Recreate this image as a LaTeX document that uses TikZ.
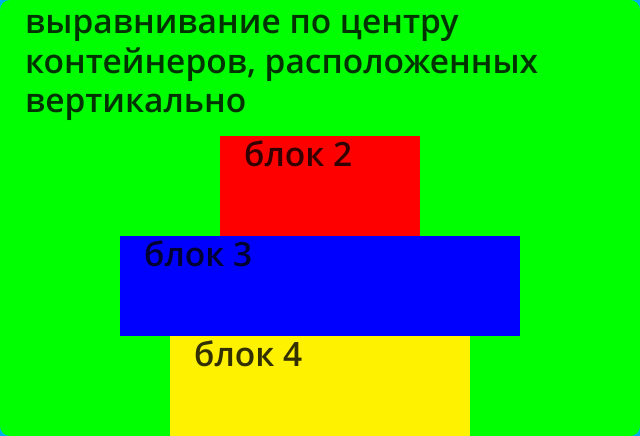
\documentclass[tikz,border=0pt]{standalone}
\usepackage{fontspec}
\setmainfont{Open Sans}
\IfFontExistsTF{Open Sans Semibold}{\newfontfamily\semifont{Open Sans Semibold}}{%
  \IfFontExistsTF{OpenSans-SemiBold.ttf}{\newfontfamily\semifont{OpenSans-SemiBold.ttf}}{%
    \IfFontExistsTF{OpenSans-Semibold.ttf}{\newfontfamily\semifont{OpenSans-Semibold.ttf}}{%
      \newfontfamily\semifont{Open Sans Bold}}}}
\usetikzlibrary{positioning}

\begin{document}
\begin{tikzpicture}[
    x=1pt, y=-1pt,
    box/.style={anchor=north west, inner sep=0pt, outer sep=0pt},
    lbl/.style={anchor=base west, inner sep=0pt, text=black, text opacity=0.8,
        font=\semifont\fontsize{33.5}{40}\selectfont},
    ttl/.style={anchor=base west, inner sep=0pt, align=left, text=black, text opacity=0.8,
        font=\semifont\fontsize{33.5}{39.5}\selectfont},
]

\useasboundingbox (0,0) rectangle (640,436);
\fill[cyan] (0,0) rectangle (640,436);
\node[box, fill=green, rounded corners=10pt, minimum width=640pt, minimum height=436pt] (page) at (0,0) {};

% base anchor = baseline of the last line
\node[ttl] (title) at (25,113) {выравнивание по центру\\контейнеров, расположенных\\вертикально};

% blocks stacked, centred
\node[box, fill=red, minimum width=200pt, minimum height=100pt] (b2) at (220,136) {};
\node[box, fill=blue, minimum width=400pt, minimum height=100pt] (b3) at (120,236) {};
\node[box, fill=yellow, minimum width=300pt, minimum height=100pt] (b4) at (170,336) {};

\node[lbl] (t2) at ([shift={(24,30)}]b2.north west) {блок 2};
\node[lbl] (t3) at ([shift={(24,30)}]b3.north west) {блок 3};
\node[lbl] (t4) at ([shift={(24,30)}]b4.north west) {блок 4};

\end{tikzpicture}
\end{document}
